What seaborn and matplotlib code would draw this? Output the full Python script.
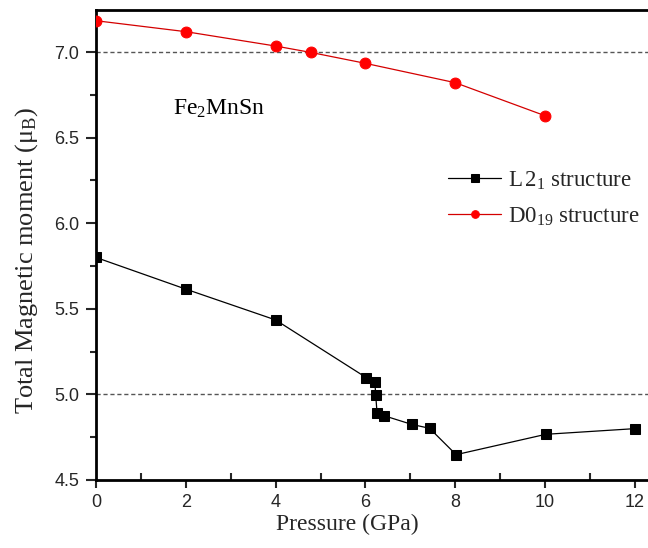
import numpy as np
import pandas as pd
import matplotlib
matplotlib.use("Agg")
import matplotlib.pyplot as plt
import seaborn as sns
from matplotlib.ticker import MultipleLocator

# Data
p_l21 = [0.0, 2.0, 4.0, 6.02, 6.21, 6.23, 6.26, 6.41, 7.03, 7.43, 8.02, 10.02, 12.0]
m_l21 = [5.80, 5.615, 5.435, 5.098, 5.074, 4.995, 4.889, 4.876, 4.825, 4.802, 4.648, 4.767, 4.80]
p_d019 = [0.0, 2.0, 4.0, 4.78, 6.0, 8.0, 10.0]
m_d019 = [7.183, 7.119, 7.035, 6.998, 6.934, 6.821, 6.628]
ref_lines = [7.0, 5.0]
x_ticks = [0, 2, 4, 6, 8, 10, 12]
y_ticks = [4.5, 5.0, 5.5, 6.0, 6.5, 7.0]
label_l21 = r"L$\,$2$_{1}$ structure"
label_d019 = r"D0$_{19}$ structure"

sns.set_style("ticks")
plt.rcParams["font.family"] = ["Liberation Sans", "DejaVu Sans"]
plt.rcParams["mathtext.fontset"] = "custom"
plt.rcParams["mathtext.rm"] = "Liberation Serif"
plt.rcParams["mathtext.it"] = "Liberation Serif:italic"

df_l21 = pd.DataFrame({"p": p_l21, "m": m_l21})
df_d019 = pd.DataFrame({"p": p_d019, "m": m_d019})

fig = plt.figure(figsize=(6.48, 5.48), dpi=100)
ax = fig.add_axes([96 / 648, 1 - 480 / 548, 552 / 648, 470.5 / 548])

for y in ref_lines:
    ax.axhline(y, color="#555555", lw=1.0, ls=(0, (3, 2)), zorder=1)

sns.lineplot(data=df_l21, x="p", y="m", ax=ax, color="black", lw=0.9,
             marker="s", markersize=7.7, markeredgecolor="black",
             markerfacecolor="black", label=label_l21, sort=False, zorder=3)
sns.lineplot(data=df_d019, x="p", y="m", ax=ax, color="#d40000", lw=0.9,
             marker="o", markersize=7.8, markeredgecolor="#ff0000",
             markerfacecolor="#ff0000", label=label_d019, sort=False, zorder=3)

ax.set_xlim(0, 552 / 44.9)
ax.set_ylim(4.5, 7.2485)
ax.set_xticks(x_ticks)
ax.set_yticks(y_ticks)
ax.set_yticklabels([f"{v:.1f}" for v in y_ticks])
ax.xaxis.set_minor_locator(MultipleLocator(1))
ax.yaxis.set_minor_locator(MultipleLocator(0.25))
ax.tick_params(axis="x", which="major", direction="out", length=6, width=1.5,
               labelsize=13, pad=4)
ax.tick_params(axis="x", which="minor", direction="in", length=5, width=1.5)
ax.tick_params(axis="y", which="major", direction="out", length=7, width=1.5,
               labelsize=13, pad=5)
ax.tick_params(axis="y", which="minor", direction="out", length=4, width=1.5)

for s in ["left", "bottom", "top"]:
    ax.spines[s].set_linewidth(2.0)
    ax.spines[s].set_color("black")
ax.spines["right"].set_visible(False)

ax.set_xlabel("Pressure (GPa)", family=["Liberation Serif"], fontsize=17)
ax.xaxis.set_label_coords(0.4547, -0.072)
ax.set_ylabel("Total Magnetic moment (μ$_{\\rm B}$)", family=["Liberation Serif"],
              fontsize=19)
ax.yaxis.set_label_coords(-0.101, 0.4676)

ax.text(1.71, 6.632, r"Fe$_{2}$MnSn", family=["Liberation Serif"], fontsize=17,
        color="black", va="baseline")

leg = ax.legend(loc="upper left", bbox_to_anchor=(0.638, 0.66), frameon=False,
                prop={"family": "Liberation Serif", "size": 16.5}, borderpad=0,
                borderaxespad=0, handlelength=2.3, handletextpad=0.3,
                labelspacing=0.6)
for h in leg.legend_handles:
    h.set_markersize(5.5)

fig.savefig("out.png", dpi=100)
